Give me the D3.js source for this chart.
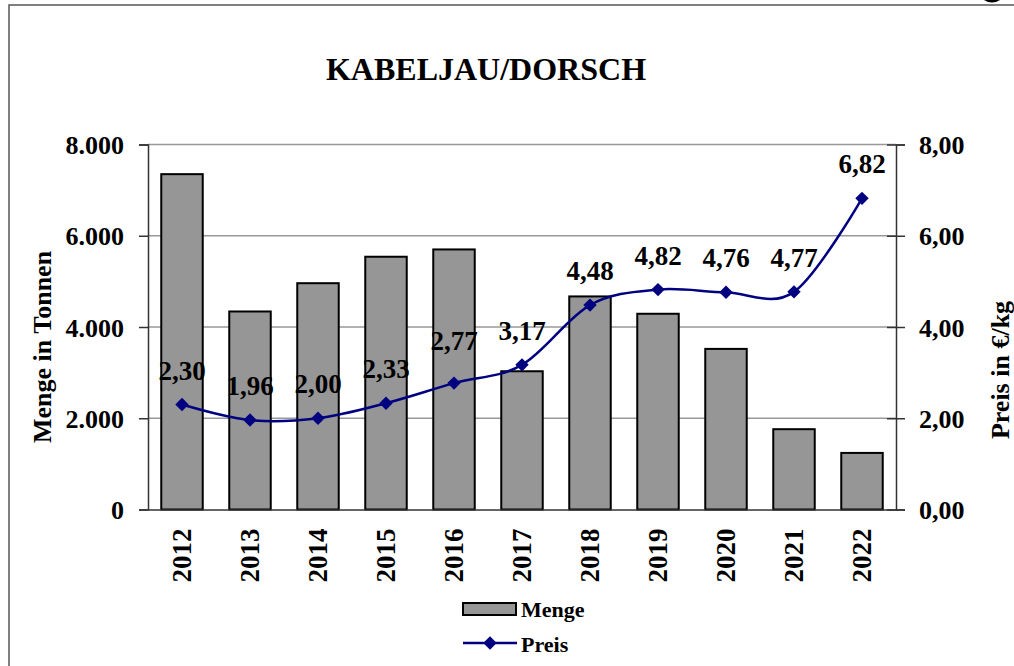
<!DOCTYPE html>
<html>
<head>
<meta charset="utf-8">
<script src="https://cdn.jsdelivr.net/npm/d3@7"></script>
<style>
  body { margin: 0; background: #fff; }
  text { font-family: "Liberation Serif", "Times New Roman", serif; font-weight: bold; fill: #000; }
</style>
</head>
<body>
<script>
// DATA
const years = ["2012", "2013", "2014", "2015", "2016", "2017", "2018", "2019", "2020", "2021", "2022"];
const menge = [7350, 4340, 4960, 5540, 5700, 3030, 4670, 4290, 3520, 1760, 1240];
const preis = [2.30, 1.96, 2.00, 2.33, 2.77, 3.17, 4.48, 4.82, 4.76, 4.77, 6.82];
const mengeTicks = [0, 2000, 4000, 6000, 8000];
const preisTicks = [0, 2, 4, 6, 8];

// svg + frame
var svg = d3.select("body")
    .append("svg")
    .attr("width", 1014)
    .attr("height", 666);

svg.append("rect")
    .attr("width", 1014).attr("height", 666)
    .attr("fill", "#fff");

svg.append("rect")
    .attr("x", 9).attr("y", 5)
    .attr("width", 1030).attr("height", 700)
    .attr("fill", "none")
    .attr("stroke", "#555")
    .attr("stroke-width", 1.5);

// small dark fragment at the top right edge
svg.append("path")
    .attr("d", "M984,0 Q992,5 1000,0 Z")
    .attr("fill", "#000");

const margin = {top: 144.5, right: 118, bottom: 156.5, left: 148};
const width = 1014 - margin.left - margin.right;
const height = 666 - margin.top - margin.bottom;

// scales
const xScale = d3.scaleBand()
    .domain(years)
    .range([0, width])
    .paddingInner(0.39)
    .paddingOuter(0.195);

const yLeft = d3.scaleLinear().domain([0, 8000]).range([height, 0]);
const yRight = d3.scaleLinear().domain([0, 8]).range([height, 0]);

const g = svg.append("g")
    .attr("transform", "translate(" + margin.left + "," + margin.top + ")");

// gridlines
g.append("g").selectAll("line")
    .data(mengeTicks.filter(d => d > 0))
    .enter().append("line")
    .attr("x1", 0).attr("x2", width)
    .attr("y1", d => yLeft(d)).attr("y2", d => yLeft(d))
    .attr("stroke", "#999")
    .attr("stroke-width", 1.5);

// bars
g.append("g").selectAll("rect")
    .data(years)
    .enter().append("rect")
    .attr("x", d => xScale(d))
    .attr("y", (d, i) => yLeft(menge[i]))
    .attr("width", xScale.bandwidth())
    .attr("height", (d, i) => height - yLeft(menge[i]))
    .attr("fill", "#969696")
    .attr("stroke", "#000")
    .attr("stroke-width", 2);

// axes
const leftAxis = g.append("g")
    .call(d3.axisLeft(yLeft).tickValues(mengeTicks).tickSize(9).tickPadding(15)
        .tickFormat(d => d === 0 ? "0" : d3.format(",")(d).replace(/,/g, ".")));

const rightAxis = g.append("g")
    .attr("transform", "translate(" + width + ",0)")
    .call(d3.axisRight(yRight).tickValues(preisTicks).tickSize(9).tickPadding(14)
        .tickFormat(d => d3.format(".2f")(d).replace(".", ",")));

[leftAxis, rightAxis].forEach(ax => {
    ax.select(".domain").attr("stroke", "#333").attr("stroke-width", 1.5);
    ax.selectAll(".tick line").attr("stroke", "#333").attr("stroke-width", 1.5);
    ax.selectAll(".tick text")
        .attr("font-family", null)
        .attr("font-size", 26)
        .attr("dy", "0.35em");
});

rightAxis.selectAll(".tick line").attr("x1", -9);

const bottomAxis = g.append("g")
    .attr("transform", "translate(0," + height + ")")
    .call(d3.axisBottom(xScale).tickSize(0).tickPadding(0));
bottomAxis.select(".domain").attr("stroke", "#333").attr("stroke-width", 1.5);
bottomAxis.selectAll(".tick text")
    .attr("font-family", null)
    .attr("font-size", 27)
    .attr("text-anchor", "end")
    .attr("transform", "translate(0,19) rotate(-90)")
    .attr("x", 0).attr("y", 0)
    .attr("dy", "0.35em");

// price line
const line = d3.line()
    .x((d, i) => xScale(years[i]) + xScale.bandwidth() / 2)
    .y(d => yRight(d))
    .curve(d3.curveCardinal.tension(0));

g.append("path")
    .datum(preis)
    .attr("d", line)
    .attr("fill", "none")
    .attr("stroke", "#000080")
    .attr("stroke-width", 2.5);

const diamond = d3.symbol().type(d3.symbolSquare).size(90);

g.append("g").selectAll("path")
    .data(preis)
    .enter().append("path")
    .attr("d", diamond)
    .attr("transform", (d, i) => "translate(" + (xScale(years[i]) + xScale.bandwidth() / 2) + "," + yRight(d) + ") rotate(45)")
    .attr("fill", "#000080");

// value labels (the 2016 one sits a bit higher)
g.append("g").selectAll("text")
    .data(preis)
    .enter().append("text")
    .attr("x", (d, i) => xScale(years[i]) + xScale.bandwidth() / 2)
    .attr("y", (d, i) => yRight(d) - (years[i] === "2016" ? 33 : 25))
    .attr("text-anchor", "middle")
    .attr("font-size", 27)
    .text(d => d3.format(".2f")(d).replace(".", ","));

// titles
svg.append("text")
    .attr("x", 486).attr("y", 80)
    .attr("text-anchor", "middle")
    .attr("font-size", 32)
    .text("KABELJAU/DORSCH");

svg.append("text")
    .attr("transform", "translate(51,347) rotate(-90)")
    .attr("text-anchor", "middle")
    .attr("font-size", 26)
    .text("Menge in Tonnen");

svg.append("text")
    .attr("transform", "translate(1009,370) rotate(-90)")
    .attr("text-anchor", "middle")
    .attr("font-size", 26)
    .text("Preis in €/kg");

// legend
const legend = svg.append("g").attr("transform", "translate(463,0)");
legend.append("rect")
    .attr("x", 0).attr("y", 603)
    .attr("width", 53).attr("height", 12)
    .attr("fill", "#969696")
    .attr("stroke", "#000")
    .attr("stroke-width", 2);
legend.append("text")
    .attr("x", 58).attr("y", 617)
    .attr("font-size", 22)
    .text("Menge");
legend.append("line")
    .attr("x1", 0).attr("x2", 54)
    .attr("y1", 643).attr("y2", 643)
    .attr("stroke", "#000080")
    .attr("stroke-width", 2.5);
legend.append("path")
    .attr("d", diamond)
    .attr("transform", "translate(27,643) rotate(45)")
    .attr("fill", "#000080");
legend.append("text")
    .attr("x", 58).attr("y", 652)
    .attr("font-size", 22)
    .text("Preis");
</script>
</body>
</html>
